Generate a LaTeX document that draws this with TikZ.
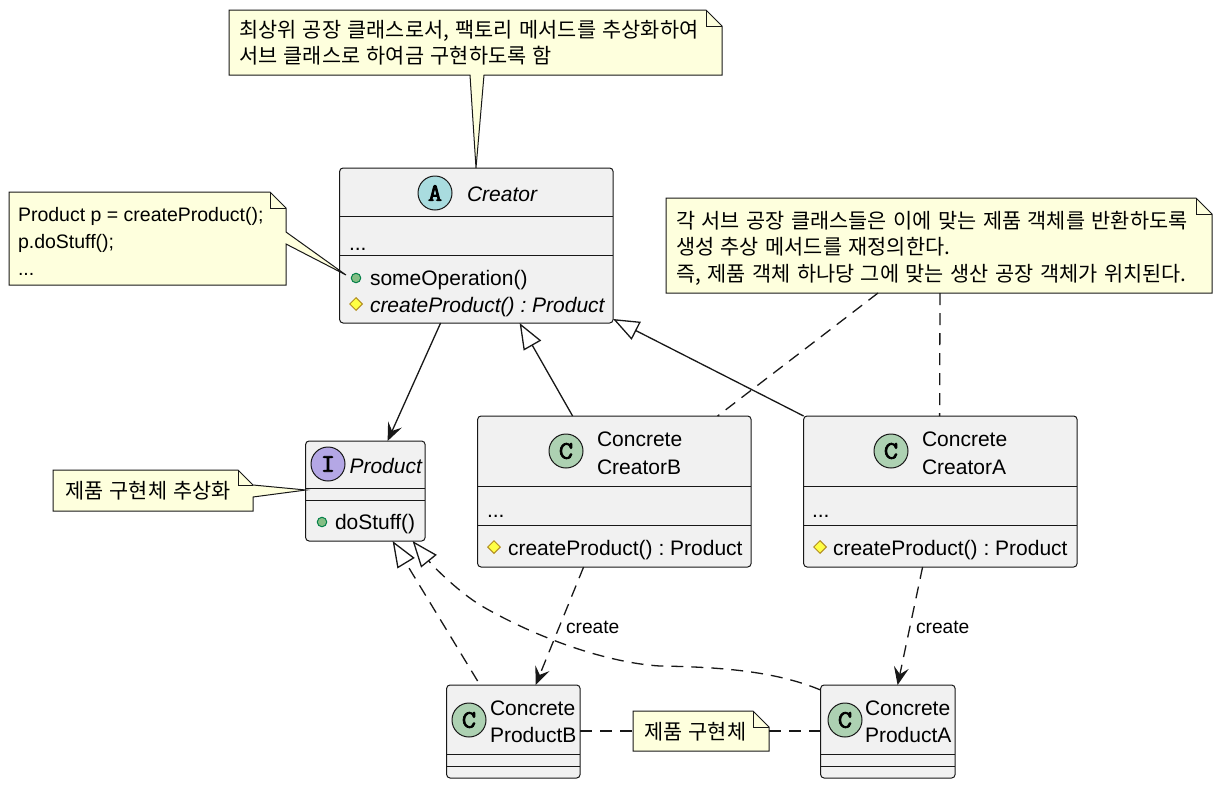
\documentclass[tikz,border=0pt]{standalone}
\usepackage{fontspec}
\setmainfont{Liberation Sans}
\newfontfamily\kor[WordSpace=1.4]{Noto Sans CJK KR}
\newfontfamily\spotfont[FakeBold=3,FakeStretch=1.1]{Latin Modern Mono}
\usetikzlibrary{arrows.meta,calc,shapes.geometric}
\definecolor{boxfill}{HTML}{F1F1F1}
\definecolor{boxline}{HTML}{181818}
\definecolor{notefill}{HTML}{FEFFDD}
\definecolor{spotC}{HTML}{ADD1B2}
\definecolor{spotA}{HTML}{A9DCDF}
\definecolor{spotI}{HTML}{B4A7E5}
\definecolor{pubfill}{HTML}{84BE84}
\definecolor{publine}{HTML}{038048}
\definecolor{protfill}{HTML}{FFFF44}
\definecolor{protline}{HTML}{B38D22}
\frenchspacing
\tikzset{
 x=1pt,y=-1pt,
 cls/.style={draw=boxline,fill=boxfill,line width=1pt,rounded corners=3.5pt,inner sep=0pt,outer sep=0pt,anchor=north west},
 notearea/.style={inner sep=0pt,outer sep=0pt,anchor=north west},
 noteline/.style={draw=boxline,fill=notefill,line width=1pt,line join=miter},
 foldline/.style={draw=boxline,line width=1pt,fill=none},
 sep/.style={draw=boxline,line width=1pt},
 txt/.style={inner sep=0pt,outer sep=0pt,anchor=base west,font=\fontsize{21}{25}\selectfont,text=black},
 ntxt/.style={inner sep=0pt,outer sep=0pt,anchor=base west,font=\fontsize{19.5}{24}\selectfont,text=black},
 ktxt/.style={inner sep=0pt,outer sep=0pt,anchor=base west,font=\fontsize{20.8}{25}\selectfont\kor,text=black},
 lbl/.style={inner sep=0pt,outer sep=0pt,anchor=base west,font=\fontsize{19.2}{23}\selectfont,text=black},
 spot/.style={circle,draw=boxline,line width=1pt,minimum size=34pt,inner sep=0pt,font=\fontsize{25}{25}\selectfont\spotfont,text=black},
 pub/.style={circle,draw=publine,fill=pubfill,line width=1pt,minimum size=9.5pt,inner sep=0pt},
 prot/.style={diamond,draw=protline,fill=protfill,line width=1pt,inner sep=0pt,minimum size=13pt},
 conn/.style={draw=boxline,line width=1.3pt},
 dashline/.style={dash pattern=on 12pt off 8pt},
 opentip/.style={-{Stealth[length=18pt,width=15pt,inset=7pt]}},
 hollow/.style={-{Triangle[open,length=26pt,width=20pt,fill=white]}},
}
\newcommand{\classbox}[5]{\node[cls,minimum width=#4-#2,minimum height=#5-#3] (#1) at (#2-0.4,#3) {};}
\newcommand{\notearearect}[5]{\node[notearea,minimum width=#4-#2,minimum height=#5-#3] (#1) at (#2,#3) {};}
\begin{document}
\begin{tikzpicture}
\useasboundingbox (0,0) rectangle (1222,787);
\fill[white] (0,0) rectangle (1222,787);

% classes
\classbox{creator}{340}{168}{613.5}{323}
\draw[sep] (340,216) -- (613,216) (340,255) -- (613,255);
\classbox{product}{306}{441}{425.5}{541}
\draw[sep] (306,488) -- (425,488) (306,500) -- (425,500);
\classbox{creatorB}{478}{416}{751.5}{567}
\draw[sep] (478,486) -- (751,486) (478,525) -- (751,525);
\classbox{creatorA}{804}{416}{1077.5}{567}
\draw[sep] (804,486) -- (1077,486) (804,525) -- (1077,525);
\classbox{productB}{447}{685}{580.5}{778}
\draw[sep] (447,754) -- (580,754) (447,766) -- (580,766);
\classbox{productA}{821}{685}{955.5}{778}
\draw[sep] (821,754) -- (955,754) (821,766) -- (955,766);

% spots
\node[spot,fill=spotA] (sa) at (435,193) {A};
\node[spot,fill=spotI] (si) at (328,464) {I};
\node[spot,fill=spotC] (scb) at (566,451) {C};
\node[spot,fill=spotC] (sca) at (891,451) {C};
\node[spot,fill=spotC] (spb) at (469,720) {C};
\node[spot,fill=spotC] (spa) at (845,720) {C};

% class text
\node[txt] (t1) at (467,201) {\itshape Creator};
\node[txt] (t2) at (349,250) {...};
\node[pub] (v1) at (356,278) {};
\node[txt] (t3) at (370,285) {someOperation()};
\node[prot] (v2) at (356,304) {};
\node[txt] (t4) at (370,312) {\itshape createProduct() : Product};
\node[txt] (t5) at (349.5,473) {\itshape Product};
\node[pub] (v3) at (322,522) {};
\node[txt] (t6) at (335,529) {doStuff()};
\node[txt] (t7) at (597,446) {Concrete};
\node[txt] (t8) at (597,474) {CreatorB};
\node[txt] (t9) at (487,517) {...};
\node[prot] (v4) at (494,547) {};
\node[txt] (t10) at (508,555) {createProduct() : Product};
\node[txt] (t11) at (922,446) {Concrete};
\node[txt] (t12) at (922,474) {CreatorA};
\node[txt] (t13) at (812,517) {...};
\node[prot] (v5) at (820,547) {};
\node[txt] (t14) at (833,555) {createProduct() : Product};
\node[txt] (t15) at (490,715) {Concrete};
\node[txt] (t16) at (490,742) {ProductB};
\node[txt] (t17) at (865,715) {Concrete};
\node[txt] (t18) at (865,742) {ProductA};

% notes
\notearearect{ntop}{229}{10}{722}{75}
\draw[noteline] (229,10) -- (706,10) -- (722,26) -- (722,75) -- (484,75) -- (476,168) -- (470,75) -- (229,75) -- cycle;
\draw[foldline] (706,10) -- (706,26) -- (722,26);
\node[ktxt] (n1) at (239,37) {최상위 공장 클래스로서, 팩토리 메서드를 추상화하여};
\node[ktxt] (n2) at (239,63) {서브 클래스로 하여금 구현하도록 함};

\notearearect{nleft}{9}{192}{286}{285}
\draw[noteline] (9,192) -- (270,192) -- (286,208) -- (286,232) -- (346,275) -- (286,244) -- (286,285) -- (9,285) -- cycle;
\draw[foldline] (270,192) -- (270,208) -- (286,208);
\node[ntxt] (n3) at (18,221) {Product p = createProduct();};
\node[ntxt] (n4) at (18,248) {p.doStuff();};
\node[ntxt] (n5) at (18,275) {...};

\notearearect{nprod}{53}{470}{253}{511}
\draw[noteline] (53,470) -- (238,470) -- (253,485) -- (306,490) -- (253,497) -- (253,511) -- (53,511) -- cycle;
\draw[foldline] (238,470) -- (238,485) -- (253,485);
\node[ktxt] (n6) at (65,498) {제품 구현체 추상화};

\notearearect{nright}{666}{198}{1212}{293}
\draw[noteline] (666,198) -- (1196,198) -- (1212,214) -- (1212,293) -- (666,293) -- cycle;
\draw[foldline] (1196,198) -- (1196,214) -- (1212,214);
\node[ktxt] (n7) at (676,228) {각 서브 공장 클래스들은 이에 맞는 제품 객체를 반환하도록};
\node[ktxt] (n8) at (676,254) {생성 추상 메서드를 재정의한다.};
\node[ktxt] (n9) at (676,281) {즉, 제품 객체 하나당 그에 맞는 생산 공장 객체가 위치된다.};

\notearearect{nbot}{633}{711}{769}{751}
\draw[noteline] (633,711) -- (753,711) -- (769,727) -- (769,751) -- (633,751) -- cycle;
\draw[foldline] (753,711) -- (753,727) -- (769,727);
\node[ktxt] (n10) at (644,739) {제품 구현체};

% connectors
\draw[conn,opentip] ([xshift=101pt]creator.south west) -- ([xshift=82pt]product.north west);
\draw[conn,hollow] ([xshift=95pt]creatorB.north west) -- ([xshift=180pt]creator.south west);
\draw[conn,hollow] (creatorA.north west) -- ([yshift=4pt]creator.south east);
\draw[conn,dashline] ([xshift=212pt]nright.south west) -- ([xshift=240pt]creatorB.north west);
\draw[conn,dashline] ([xshift=274pt]nright.south west) -- ([xshift=136pt]creatorA.north west);
\draw[conn,dashline,opentip] ([xshift=106pt]creatorB.south west) -- ([xshift=89pt]productB.north west);
\draw[conn,dashline,opentip] ([xshift=119pt]creatorA.south west) -- ([xshift=77pt]productA.north west);
\draw[conn,dashline,hollow] ([xshift=31pt,yshift=4pt]productB.north west) -- ([xshift=87pt]product.south west);
\draw[conn,dashline,hollow] ([yshift=-5pt]productA.north west) .. controls (775,671) and (720,667) .. (660,666) .. controls (610,663) and (540,640) .. (480,605) .. controls (455,589) and (432,565) .. ([xshift=107pt]product.south west);
\draw[conn,dashline] (productB.east |- nbot.west) -- (nbot.west);
\draw[conn,dashline] (nbot.east) -- (productA.west |- nbot.east);

\node[lbl] (c1) at (566,633) {create};
\node[lbl] (c2) at (916,633) {create};
\end{tikzpicture}
\end{document}
